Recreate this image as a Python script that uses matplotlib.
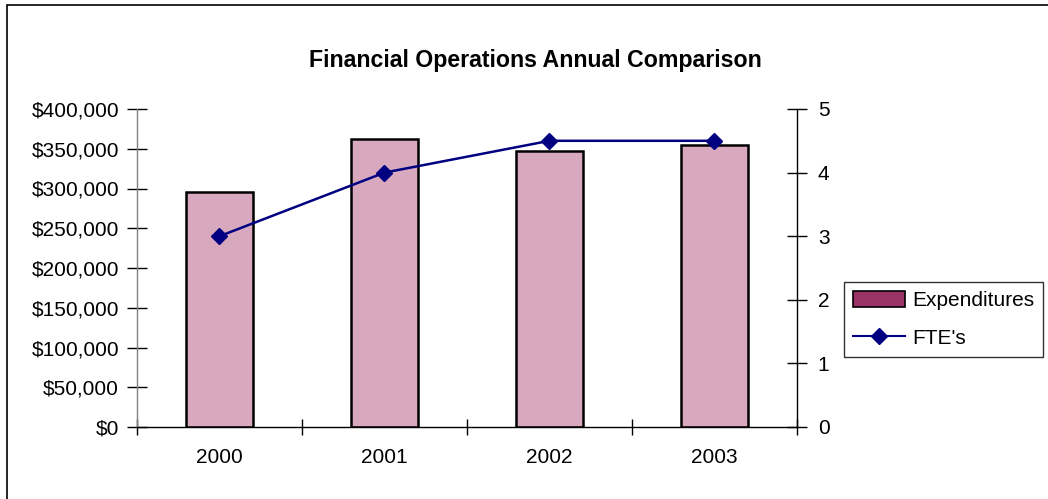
import matplotlib
matplotlib.use("Agg")
import matplotlib.pyplot as plt
from matplotlib.patches import Rectangle, Patch
from matplotlib.lines import Line2D
from matplotlib.ticker import FuncFormatter, MultipleLocator

years = ["2000", "2001", "2002", "2003"]
expenditures = [295000, 362000, 347000, 355000]
ftes = [3, 4, 4.5, 4.5]

plt.rcParams["font.family"] = ["Liberation Sans", "DejaVu Sans"]

fig = plt.figure(figsize=(10.48, 4.99), dpi=100)
fig.patch.set_facecolor("white")

# chart area border (runs past the right and bottom edges)
fig.add_artist(Rectangle((7 / 1048, -0.05), 1.1, 1.05 - 5 / 499,
                         transform=fig.transFigure, fill=False,
                         edgecolor="black", linewidth=1.2))

ax = fig.add_axes([137 / 1048, 1 - 427 / 499, 660 / 1048, 318 / 499])
x = range(len(years))
ax.bar(x, expenditures, width=0.41, color="#D8A9BE", edgecolor="black",
       linewidth=1.8, zorder=2)
ax.set_xlim(-0.5, len(years) - 0.5)
ax.set_ylim(0, 400000)
ax.yaxis.set_major_locator(MultipleLocator(50000))
ax.yaxis.set_major_formatter(FuncFormatter(lambda v, p: f"${v:,.0f}"))
ax.set_xticks([i - 0.5 for i in range(len(years) + 1)])
ax.set_xticklabels([])
ax.set_xticks(list(x), minor=True)
ax.set_xticklabels(years, minor=True)
ax.tick_params(axis="x", which="major", direction="inout", length=12, width=1)
ax.tick_params(axis="x", which="minor", length=0, pad=15, labelsize=15)
ax.tick_params(axis="y", direction="inout", length=14, width=1, pad=6, labelsize=15)
ax.spines["top"].set_visible(False)
ax.spines["right"].set_visible(False)
ax.spines["left"].set_color("#808080")
for s in ("left", "bottom"):
    ax.spines[s].set_linewidth(1)

ax2 = ax.twinx()
ax2.plot(list(x), ftes, color="#000080", linewidth=1.8, marker="D",
         markersize=8.5, zorder=3)
ax2.set_ylim(0, 5)
ax2.yaxis.set_major_locator(MultipleLocator(1))
ax2.tick_params(axis="y", direction="inout", length=14, width=1, pad=8, labelsize=15)
for s in ("top", "left", "bottom"):
    ax2.spines[s].set_visible(False)
ax2.spines["right"].set_linewidth(1)

fig.text(535 / 1048, 1 - 60 / 499, "Financial Operations Annual Comparison",
         ha="center", va="center", fontsize=16.7, fontweight="bold")

handles = [Patch(facecolor="#993366", edgecolor="black", linewidth=1.2),
           Line2D([], [], color="#000080", linewidth=1.5, marker="D", markersize=8)]
leg = fig.legend(handles, ["Expenditures", "FTE's"],
                 loc="upper left", bbox_to_anchor=(844 / 1048, 1 - 282 / 499),
                 frameon=True, fancybox=False, fontsize=15,
                 handlelength=2.5, handleheight=0.8, handletextpad=0.35,
                 borderpad=0.42, labelspacing=0.9, borderaxespad=0)
leg.get_frame().set_edgecolor("black")
leg.get_frame().set_linewidth(1)

fig.savefig("out.png", dpi=100)
